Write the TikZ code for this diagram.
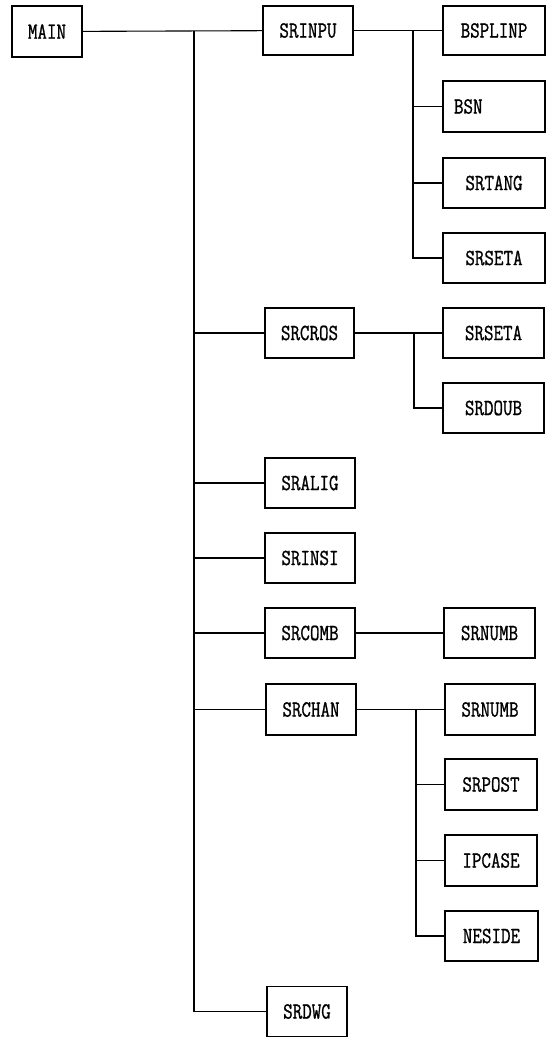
\documentclass[tikz,border=0pt]{standalone}
\usepackage{fontspec}
\newfontfamily\boxfont[FakeBold=1.2]{Latin Modern Mono}
\newcommand\lbl[1]{\scalebox{1}[1.25]{#1}}
\tikzset{
  box/.style={draw, line width=1.1pt, minimum height=50pt, inner sep=0pt,
    font=\boxfont\fontsize{18.5}{19}\selectfont},
  conn/.style={line width=1.1pt}
}
\begin{document}
\begin{tikzpicture}[x=1pt,y=-1pt]
\useasboundingbox (0,0) rectangle (551,1037);
% level 0 / 1
\node[box, minimum width=70pt, minimum height=51pt] (MAIN) at (47,31.5) {\lbl{MAIN}};
\node[box, minimum width=90pt, minimum height=49pt] (SRINPU) at (308,30.5) {\lbl{SRINPU}};
\node[box, minimum width=89pt] (SRCROS) at (309.5,333) {\lbl{SRCROS}};
\node[box, minimum width=90pt] (SRALIG) at (310,483) {\lbl{SRALIG}};
\node[box, minimum width=90pt] (SRINSI) at (310,558) {\lbl{SRINSI}};
\node[box, minimum width=90pt] (SRCOMB) at (310,633) {\lbl{SRCOMB}};
\node[box, minimum width=90pt, minimum height=51pt] (SRCHAN) at (311,709.5) {\lbl{SRCHAN}};
\node[box, minimum width=80pt] (SRDWG) at (307,1011.5) {\lbl{SRDWG}};
% level 2
\node[box, minimum width=102pt, minimum height=49pt] (BSPLINP) at (494,30.5) {\lbl{BSPLINP}};
\node[box, minimum width=102pt, minimum height=51pt, text width=80pt, align=left] (BSN) at (494,106.5) {\lbl{BSN}};
\node[box, minimum width=102pt] (SRTANG) at (494,183) {\lbl{SRTANG}};
\node[box, minimum width=102pt] (SRSETA) at (494,258) {\lbl{SRSETA}};
\node[box, minimum width=101pt] (SRSETAb) at (493.5,333) {\lbl{SRSETA}};
\node[box, minimum width=101pt] (SRDOUB) at (493.5,408) {\lbl{SRDOUB}};
\node[box, minimum width=91pt] (SRNUMB) at (489.5,633) {\lbl{SRNUMB}};
\node[box, minimum width=90pt, minimum height=51pt] (SRNUMBb) at (490,709.5) {\lbl{SRNUMB}};
\node[box, minimum width=92pt, minimum height=51pt] (SRPOST) at (491,784.5) {\lbl{SRPOST}};
\node[box, minimum width=92pt, minimum height=51pt] (IPCASE) at (491,860.5) {\lbl{IPCASE}};
\node[box, minimum width=93pt] (NESIDE) at (491.5,936) {\lbl{NESIDE}};
% trunk and branch lines
\coordinate (trunk) at (194,31);
\coordinate (b1) at (413,31);
\coordinate (b2) at (414,333);
\coordinate (b3) at (416,709.5);
\draw[conn] (MAIN) -- (SRINPU);
\draw[conn] (trunk) |- (SRDWG.west);
\foreach \n in {SRCROS,SRALIG,SRINSI,SRCOMB,SRCHAN}
  \draw[conn] (trunk |- \n.west) -- (\n.west);
% SRINPU children
\draw[conn] (SRINPU) -- (BSPLINP);
\draw[conn] (b1) |- (SRSETA.west);
\draw[conn] (b1 |- BSN.west) -- (BSN.west);
\draw[conn] (b1 |- SRTANG.west) -- (SRTANG.west);
% SRCROS children
\draw[conn] (SRCROS) -- (SRSETAb);
\draw[conn] (b2) |- (SRDOUB.west);
% SRCOMB child
\draw[conn] (SRCOMB) -- (SRNUMB);
% SRCHAN children
\draw[conn] (SRCHAN) -- (SRNUMBb);
\draw[conn] (b3) |- (NESIDE.west);
\draw[conn] (b3 |- SRPOST.west) -- (SRPOST.west);
\draw[conn] (b3 |- IPCASE.west) -- (IPCASE.west);
\end{tikzpicture}
\end{document}
